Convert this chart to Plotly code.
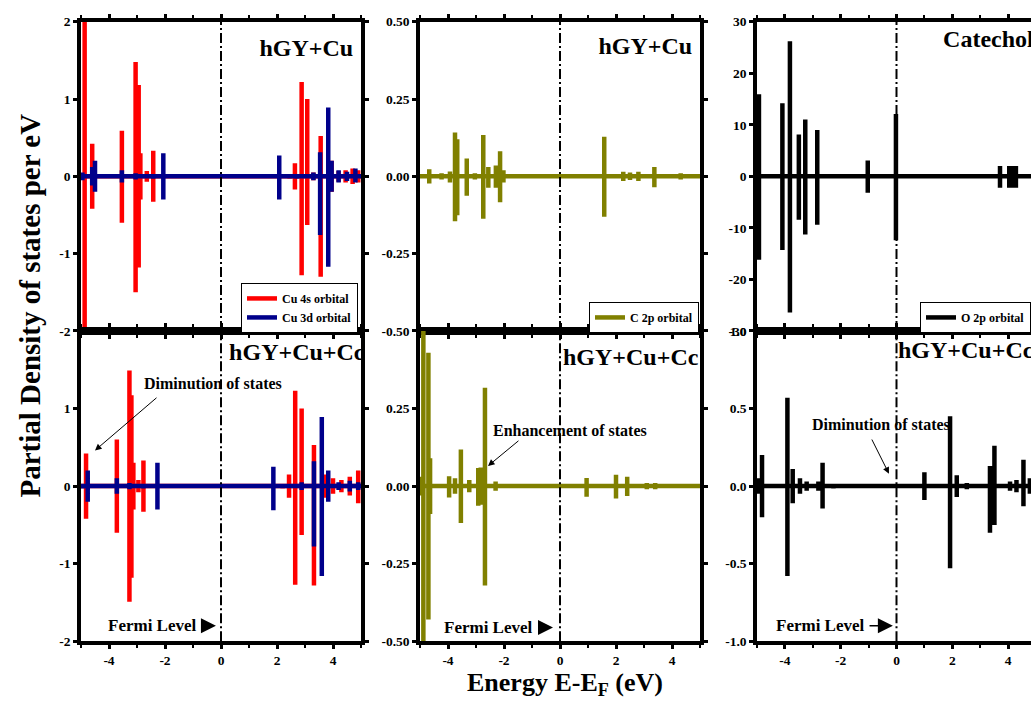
import plotly.graph_objects as go

# ---------------- data (energies in eV, spin-up / spin-down PDOS magnitudes) ----------------
# Panel 1: hGY+Cu, Cu orbitals
cu4s_a_E    = [-4.87, -4.6, -3.54, -3.05, -2.94, -2.88, -2.65, -2.42, 2.45, 2.64, 2.88, 3.08, 3.3, 3.56, 3.95, 4.2, 4.45, 4.7, 4.9]
cu4s_a_up   = [3.0, 0.42, 0.59, 1.48, 1.18, 0.3, 0.07, 0.33, 0.03, 0.17, 1.22, 1.0, 0.05, 0.52, 0.2, 0.07, 0.08, 0.1, 0.08]
cu4s_a_dn   = [3.0, 0.42, 0.6, 1.5, 1.18, 0.3, 0.07, 0.33, 0.03, 0.17, 1.28, 0.63, 0.05, 1.3, 0.2, 0.07, 0.08, 0.1, 0.08]
cu3d_a_E    = [-4.95, -4.6, -4.5, -3.54, -3.05, -2.42, -2.06, 2.08, 2.7, 3.3, 3.54, 3.83, 3.95, 4.2, 4.5, 4.8]
cu3d_a_up   = [0.05, 0.12, 0.2, 0.08, 0.04, 0.03, 0.3, 0.27, 0.03, 0.05, 0.31, 0.89, 0.2, 0.08, 0.06, 0.1]
cu3d_a_dn   = [0.05, 0.12, 0.2, 0.08, 0.04, 0.03, 0.3, 0.3, 0.03, 0.05, 0.76, 1.17, 0.2, 0.08, 0.06, 0.08]

# Panel 4: hGY+Cu+Cc, Cu orbitals
cu4s_b_E    = [-4.82, -3.72, -3.27, -3.2, -3.13, -2.95, -2.77, 2.2, 2.43, 2.65, 2.88, 3.32, 3.7, 4.0, 4.3, 4.6, 4.9]
cu4s_b_up   = [0.42, 0.6, 1.49, 1.17, 0.3, 0.08, 0.33, 0.03, 0.15, 1.23, 1.0, 0.53, 0.15, 0.1, 0.08, 0.12, 0.2]
cu4s_b_dn   = [0.42, 0.6, 1.49, 1.18, 0.3, 0.08, 0.33, 0.03, 0.15, 1.27, 0.63, 1.28, 0.15, 0.1, 0.08, 0.12, 0.22]
cu3d_b_E    = [-4.95, -4.76, -3.72, -3.27, -2.77, -2.27, 1.87, 2.88, 3.32, 3.6, 3.83, 4.2, 4.6, 4.9]
cu3d_b_up   = [0.03, 0.2, 0.1, 0.04, 0.03, 0.3, 0.25, 0.05, 0.32, 0.89, 0.2, 0.05, 0.07, 0.05]
cu3d_b_dn   = [0.03, 0.2, 0.1, 0.04, 0.03, 0.3, 0.31, 0.05, 0.78, 1.16, 0.2, 0.05, 0.07, 0.05]

# Panel 2: hGY+Cu, C 2p
c2p_a_E     = [-4.67, -4.23, -3.93, -3.75, -3.67, -3.33, -3.04, -2.74, -2.56, -2.29, -2.14, -2.02, 1.58, 2.26, 2.5, 2.8, 3.37, 4.31, 4.75]
c2p_a_up    = [0.023, 0.01, 0.016, 0.142, 0.12, 0.058, 0.01, 0.134, 0.03, 0.035, 0.081, 0.02, 0.128, 0.015, 0.012, 0.015, 0.03, 0.01, 0.005]
c2p_a_dn    = [0.023, 0.01, 0.02, 0.145, 0.126, 0.063, 0.01, 0.137, 0.037, 0.037, 0.084, 0.02, 0.131, 0.015, 0.012, 0.015, 0.035, 0.01, 0.005]

# Panel 5: hGY+Cu+Cc, C 2p
c2p_b_E     = [-4.99, -4.88, -4.7, -4.64, -3.96, -3.75, -3.54, -3.24, -2.92, -2.83, -2.68, -2.3, 0.95, 2.0, 2.4, 3.1, 3.4]
c2p_b_up    = [0.03, 0.6, 0.43, 0.09, 0.032, 0.025, 0.118, 0.02, 0.058, 0.06, 0.317, 0.015, 0.026, 0.037, 0.03, 0.01, 0.01]
c2p_b_dn    = [0.03, 0.6, 0.43, 0.09, 0.037, 0.025, 0.119, 0.02, 0.063, 0.06, 0.32, 0.015, 0.034, 0.04, 0.032, 0.01, 0.01]

# Panel 3: Catechol, O 2p
o2p_a_E     = [-4.93, -4.09, -3.82, -3.5, -3.27, -2.84, -1.03, -0.02, 3.71, 4.04, 4.15, 4.28]
o2p_a_up    = [15.9, 14.2, 26.2, 8.1, 11.0, 9.0, 3.06, 12.1, 2.0, 2.0, 2.0, 2.0]
o2p_a_dn    = [16.2, 14.3, 26.4, 8.4, 11.3, 9.4, 3.2, 12.4, 2.2, 2.2, 2.2, 2.2]

# Panel 6: hGY+Cu+Cc, O 2p
o2p_b_E     = [-4.93, -4.82, -3.91, -3.72, -3.46, -3.22, -2.8, -2.65, -2.26, -2.02, 1.0, 1.92, 2.16, 2.52, 3.35, 3.51, 4.07, 4.3, 4.55, 4.78]
o2p_b_up    = [0.05, 0.2, 0.57, 0.11, 0.05, 0.03, 0.03, 0.15, 0.015, 0.01, 0.09, 0.45, 0.07, 0.02, 0.13, 0.26, 0.03, 0.04, 0.17, 0.05]
o2p_b_dn    = [0.05, 0.2, 0.58, 0.11, 0.05, 0.03, 0.03, 0.145, 0.015, 0.01, 0.09, 0.53, 0.07, 0.02, 0.3, 0.25, 0.03, 0.04, 0.13, 0.05]

x_ticks = [-4, -2, 0, 2, 4]
x_ticklabels = ["-4", "-2", "0", "2", "4"]
y_ticks = [
    [2, 1, 0, -1, -2],
    [0.5, 0.25, 0, -0.25, -0.5],
    [30, 20, 10, 0, -10, -20, -30],
    [1, 0, -1, -2],
    [0.25, 0, -0.25, -0.5],
    [1.0, 0.5, 0, -0.5, -1.0],
]
y_ticklabels = [
    ["2", "1", "0", "-1", "-2"],
    ["0.50", "0.25", "0.00", "-0.25", "-0.50"],
    ["30", "20", "10", "0", "-10", "-20", "-30"],
    ["1", "0", "-1", "-2"],
    ["0.25", "0.00", "-0.25", "-0.50"],
    ["1.0", "0.5", "0.0", "-0.5", "-1.0"],
]
panel_titles = ["hGY+Cu", "hGY+Cu", "Catechol", "hGY+Cu+Cc", "hGY+Cu+Cc", "hGY+Cu+Cc"]
y_ranges = [[-2, 2], [-0.5, 0.5], [-30, 30], [-2, 2], [-0.5, 0.5], [-1, 1]]

RED, NAVY, OLIVE, BLACK = "#ff0000", "#00008b", "#808000", "#000000"
FONT = "Liberation Serif"


def spike_path(E, up, dn, xmin=-5.2, xmax=5.2):
    xs, ys = [xmin], [0]
    for e, u, d in sorted(zip(E, up, dn)):
        xs += [e, e, e, e]
        ys += [0, u, -d, 0]
    xs.append(xmax)
    ys.append(0)
    return xs, ys


fig = go.Figure()

W, H = 1031, 707
xdom = [[81 / W, 361 / W], [420 / W, 700 / W], [757 / W, 1.0]]
ydom = [[(H - 331) / H, (H - 15) / H], [(H - 648) / H, (H - 331) / H]]
x_ranges = [[-5, 5], [-5, 5], [-5, (W - 757) / 27.9 - 5]]

series = [
    (1, cu4s_a_E, cu4s_a_up, cu4s_a_dn, RED, "Cu 4s orbital", "legend", True),
    (1, cu3d_a_E, cu3d_a_up, cu3d_a_dn, NAVY, "Cu 3d orbital", "legend", True),
    (2, c2p_a_E, c2p_a_up, c2p_a_dn, OLIVE, "C 2p orbital", "legend2", True),
    (3, o2p_a_E, o2p_a_up, o2p_a_dn, BLACK, "O 2p orbital", "legend3", True),
    (4, cu4s_b_E, cu4s_b_up, cu4s_b_dn, RED, "Cu 4s orbital", "legend", False),
    (4, cu3d_b_E, cu3d_b_up, cu3d_b_dn, NAVY, "Cu 3d orbital", "legend", False),
    (5, c2p_b_E, c2p_b_up, c2p_b_dn, OLIVE, "C 2p orbital", "legend2", False),
    (6, o2p_b_E, o2p_b_up, o2p_b_dn, BLACK, "O 2p orbital", "legend3", False),
]

for p, E, up, dn, col, name, leg, show in series:
    xs, ys = spike_path(E, up, dn)
    sfx = "" if p == 1 else str(p)
    fig.add_trace(go.Scatter(x=xs, y=ys, mode="lines", name="<b>" + name + "</b>",
                             line=dict(color=col, width=4.5),
                             xaxis="x" + sfx, yaxis="y" + sfx,
                             legend=leg, showlegend=show))

# panel labels (clipped at the plot area like the original)
title_pos = [  # (x, y, textposition)
    (4.72, 1.63, "middle left"),
    (4.72, 0.415, "middle left"),
    (1.67, 26.2, "middle right"),
    (0.29, 1.70, "middle right"),
    (0.107, 0.41, "middle right"),
    (0.054, 0.863, "middle right"),
]
for i, (tx, ty, tp) in enumerate(title_pos):
    sfx = "" if i == 0 else str(i + 1)
    fig.add_trace(go.Scatter(x=[tx], y=[ty], mode="text", text=["<b>" + panel_titles[i] + "</b>"],
                             textposition=tp, cliponaxis=True, showlegend=False,
                             textfont=dict(family=FONT, size=24, color="black"),
                             xaxis="x" + sfx, yaxis="y" + sfx, hoverinfo="skip"))

layout = dict(width=W, height=H, margin=dict(l=0, r=0, t=0, b=0),
              plot_bgcolor="white", paper_bgcolor="white", showlegend=True)

for i in range(6):
    row, col = divmod(i, 3)
    sfx = "" if i == 0 else str(i + 1)
    ax_common = dict(showline=True, linewidth=3.5, linecolor="black",
                     ticks="outside", ticklen=4, tickwidth=2.5, tickcolor="black",
                     showgrid=False, zeroline=False,
                     tickfont=dict(family=FONT, size=13.5, color="black"))
    layout["xaxis" + sfx] = dict(ax_common, domain=xdom[col], range=x_ranges[col],
                                 anchor="y" + sfx, tickvals=x_ticks,
                                 ticktext=["<b>" + t + "</b>" for t in x_ticklabels],
                                 minor=dict(dtick=1, ticks="outside", ticklen=3, tickwidth=2, tickcolor="black"),
                                 mirror="allticks", showticklabels=(row == 1))
    layout["yaxis" + sfx] = dict(ax_common, domain=ydom[row], range=y_ranges[i],
                                 anchor="x" + sfx, tickvals=y_ticks[i],
                                 ticktext=["<b>" + t + "</b>" for t in y_ticklabels[i]],
                                 mirror=("allticks" if col < 2 else False))

leg_common = dict(bgcolor="white", bordercolor="black", borderwidth=1,
                  font=dict(family=FONT, size=12, color="black"),
                  itemwidth=30, tracegroupgap=0, yanchor="bottom", xanchor="right",
                  y=(H - 333) / H)
layout["legend"] = dict(leg_common, x=358 / W)
layout["legend2"] = dict(leg_common, x=699 / W)
layout["legend3"] = dict(leg_common, x=1.0)

fig.update_layout(**layout)

# Fermi level dash-dot lines
for i in range(6):
    sfx = "" if i == 0 else str(i + 1)
    fig.add_shape(type="line", xref="x" + sfx, yref="y" + sfx + " domain",
                  x0=0, x1=0, y0=0, y1=1,
                  line=dict(color="black", width=2, dash="10px,3px,2px,3px"))

afont = dict(family=FONT, size=16, color="black")
ffont = dict(family=FONT, size=17, color="black")

# text annotations
texts = [
    ("x4", "y4", -0.29, 1.32, "Diminution of states", afont),
    ("x5", "y5", 0.36, 0.178, "Enhancement of states", afont),
    ("x6", "y6", -0.57, 0.394, "Diminution of states", afont),
    ("x4", "y4", -2.43, -1.80, "Fermi Level", ffont),
    ("x5", "y5", -2.54, -0.456, "Fermi Level", ffont),
    ("x6", "y6", -2.71, -0.90, "Fermi Level", ffont),
]
for xr, yr, tx, ty, t, f in texts:
    fig.add_annotation(xref=xr, yref=yr, x=tx, y=ty, text="<b>" + t + "</b>",
                       showarrow=False, font=f, xanchor="center", yanchor="middle")

# arrows (head, tail)
arrows = [
    ("x4", "y4", -4.5, 0.46, -2.25, 1.155, 1.0, 1.3),
    ("x5", "y5", -2.57, 0.065, -1.43, 0.15, 1.0, 1.3),
    ("x6", "y6", -0.27, 0.08, -0.91, 0.31, 1.0, 1.3),
    ("x4", "y4", -0.18, -1.80, -0.75, -1.80, 1.5, 2.0),
    ("x5", "y5", -0.25, -0.456, -0.71, -0.456, 1.5, 2.0),
    ("x6", "y6", -0.13, -0.90, -1.02, -0.90, 1.5, 2.0),
]
for xr, yr, hx, hy, tx, ty, w, s in arrows:
    fig.add_annotation(xref=xr, yref=yr, x=hx, y=hy, ax=tx, ay=ty,
                       axref=xr, ayref=yr, text="", showarrow=True,
                       arrowhead=2, arrowsize=s, arrowwidth=w, arrowcolor="black")

# axis titles
fig.add_annotation(xref="paper", yref="paper", x=30 / W, y=(H - 305) / H,
                   xanchor="center", yanchor="middle",
                   text="<b>Partial Density of states per eV</b>", textangle=-90, showarrow=False,
                   font=dict(family=FONT, size=29, color="black"))
fig.add_annotation(xref="paper", yref="paper", x=565 / W, y=(H - 692) / H,
                   xanchor="center", yanchor="middle",
                   text="<b>Energy E-E<sub>F</sub> (eV)</b>", showarrow=False,
                   font=dict(family=FONT, size=26, color="black"))

fig.write_html("out.html")
